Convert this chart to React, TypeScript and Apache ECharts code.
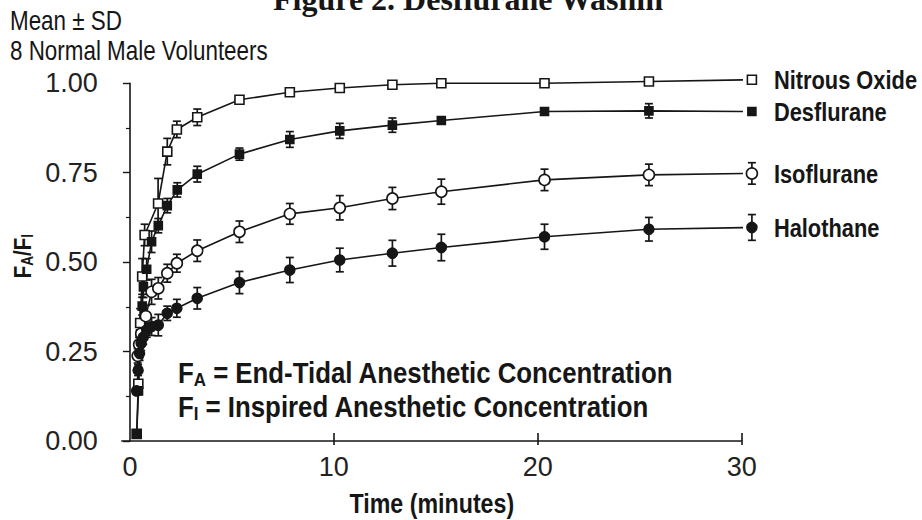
import React, { useEffect, useRef } from "react";
import * as echarts from "echarts";

// ---- data ----
const seriesNames = ["Nitrous Oxide", "Desflurane", "Isoflurane", "Halothane"];

const n2oTime = [0.33, 0.41, 0.5, 0.6, 0.72, 1.38, 1.83, 2.3, 3.3, 5.37, 7.84, 10.29, 12.87, 15.27, 20.33, 25.45, 30.5];
const n2oMean = [0.02, 0.16, 0.33, 0.46, 0.576, 0.664, 0.809, 0.871, 0.905, 0.954, 0.975, 0.987, 0.996, 1.0, 1.0, 1.005, 1.01];
const n2oSD = [0, 0.01, 0.04, 0.05, 0.03, 0.07, 0.037, 0.023, 0.023, 0.008, 0.008, 0.006, 0.005, 0.005, 0.004, 0.004, 0.004];

const desTime = [0.33, 0.42, 0.52, 0.6, 0.66, 0.82, 1.06, 1.39, 1.83, 2.32, 3.3, 5.37, 7.84, 10.29, 12.87, 15.27, 20.33, 25.45, 30.5];
const desMean = [0.02, 0.14, 0.3, 0.377, 0.431, 0.48, 0.557, 0.602, 0.658, 0.702, 0.746, 0.802, 0.843, 0.867, 0.883, 0.896, 0.921, 0.923, 0.921];
const desSD = [0, 0.01, 0.02, 0.025, 0.03, 0.03, 0.03, 0.02, 0.02, 0.02, 0.022, 0.017, 0.022, 0.021, 0.02, 0.01, 0.006, 0.02, 0.005];

const isoTime = [0.38, 0.45, 0.55, 0.78, 1.06, 1.39, 1.83, 2.3, 3.3, 5.37, 7.84, 10.29, 12.87, 15.27, 20.33, 25.45, 30.5];
const isoMean = [0.238, 0.27, 0.3, 0.349, 0.417, 0.427, 0.469, 0.497, 0.532, 0.585, 0.635, 0.652, 0.678, 0.697, 0.73, 0.744, 0.748];
const isoSD = [0.02, 0.02, 0.025, 0.03, 0.035, 0.03, 0.025, 0.025, 0.03, 0.03, 0.029, 0.034, 0.031, 0.035, 0.03, 0.03, 0.03];

const halTime = [0.33, 0.4, 0.47, 0.55, 0.65, 0.82, 1.06, 1.39, 1.83, 2.3, 3.3, 5.37, 7.84, 10.29, 12.87, 15.27, 20.33, 25.45, 30.5];
const halMean = [0.14, 0.198, 0.245, 0.273, 0.29, 0.31, 0.32, 0.324, 0.357, 0.371, 0.399, 0.443, 0.478, 0.506, 0.525, 0.541, 0.571, 0.592, 0.597];
const halSD = [0.01, 0.015, 0.02, 0.02, 0.02, 0.02, 0.025, 0.03, 0.02, 0.025, 0.03, 0.031, 0.035, 0.033, 0.036, 0.037, 0.035, 0.033, 0.036];

const xTickValues = [0, 10, 20, 30];
const xMarkValues = [10, 20, 30];

const titleText = "Figure 2. Desflurane Washin";
const noteLines = ["Mean ± SD", "8 Normal Male Volunteers"];
const xAxisTitle = "Time (minutes)";
const yAxisTitle = "F{s|A}/F{s|I}";
const defLines = ["F{s|A} = End-Tidal Anesthetic Concentration", "F{s|I} = Inspired Anesthetic Concentration"];

const INK = "#161616";
const SANS = "'Liberation Sans', Arial, Helvetica, sans-serif";
const SERIF = "'Liberation Serif', 'Times New Roman', serif";

type Spec = { time: number[]; mean: number[]; sd: number[]; symbol: string; size: number | number[]; fill: string };

const specs: Spec[] = [
  { time: n2oTime, mean: n2oMean, sd: n2oSD, symbol: "rect", size: [9, 9], fill: "#ffffff" },
  { time: desTime, mean: desMean, sd: desSD, symbol: "rect", size: [8, 8], fill: INK },
  { time: isoTime, mean: isoMean, sd: isoSD, symbol: "circle", size: 11, fill: "#ffffff" },
  { time: halTime, mean: halMean, sd: halSD, symbol: "circle", size: 10, fill: INK },
];

function defText(id: string, text: string, y: number): any {
  return {
    id,
    type: "text",
    x: 178,
    y,
    scaleX: 0.89,
    style: {
      text,
      fontFamily: SANS,
      fontWeight: "bold",
      fontSize: 29,
      lineHeight: 32,
      fill: INK,
      verticalAlign: "middle",
      rich: { s: { fontFamily: SANS, fontWeight: "bold", fontSize: 19, fill: INK, verticalAlign: "bottom", lineHeight: 20 } },
    },
  };
}

function staticGraphics(): any[] {
  return [
    {
      id: "title",
      type: "text",
      x: 468,
      y: 15,
      style: {
        text: titleText,
        fontFamily: SERIF,
        fontWeight: "bold",
        fontSize: 32,
        fill: INK,
        align: "center",
        verticalAlign: "bottom",
      },
    },
    {
      id: "note0",
      type: "text",
      x: 10,
      y: 21,
      scaleX: 0.83,
      style: { text: noteLines[0], fontFamily: SANS, fontSize: 27, fill: INK, verticalAlign: "middle" },
    },
    {
      id: "note1",
      type: "text",
      x: 10,
      y: 51,
      scaleX: 0.83,
      style: { text: noteLines[1], fontFamily: SANS, fontSize: 27, fill: INK, verticalAlign: "middle" },
    },
    defText("def0", defLines[0], 373),
    defText("def1", defLines[1], 407),
  ];
}

function buildOption(): any {
  const series: any[] = [];
  specs.forEach((s, i) => {
    series.push({
      type: "custom",
      name: seriesNames[i] + " SD",
      z: 1,
      clip: false,
      silent: true,
      data: s.time.map((t, k) => [t, s.mean[k], s.sd[k]]),
      encode: { x: 0, y: 1 },
      renderItem: (_params: any, api: any) => {
        const x = api.value(0);
        const m = api.value(1);
        const sd = api.value(2);
        if (!sd) return { type: "group", children: [] };
        const top = api.coord([x, m + sd]);
        const bot = api.coord([x, m - sd]);
        const w = 4;
        const st = { stroke: INK, lineWidth: 1.7 };
        return {
          type: "group",
          children: [
            { type: "line", shape: { x1: top[0], y1: top[1], x2: bot[0], y2: bot[1] }, style: st },
            { type: "line", shape: { x1: top[0] - w, y1: top[1], x2: top[0] + w, y2: top[1] }, style: st },
            { type: "line", shape: { x1: bot[0] - w, y1: bot[1], x2: bot[0] + w, y2: bot[1] }, style: st },
          ],
        };
      },
    });
    series.push({
      type: "line",
      name: seriesNames[i],
      z: 3,
      clip: false,
      data: s.time.map((t, k) => [t, s.mean[k]]),
      symbol: s.symbol,
      symbolSize: s.size,
      showAllSymbol: true,
      lineStyle: { color: INK, width: 1.6 },
      itemStyle: { color: s.fill, borderColor: INK, borderWidth: 1.6 },
      emphasis: { disabled: true },
    });
  });

  const xBase = {
    type: "value",
    min: -0.4,
    max: 30,
    splitLine: { show: false },
  };

  return {
    animation: false,
    backgroundColor: "#ffffff",
    grid: { left: 121.8, right: 180.3, top: 83.3, bottom: 79, containLabel: false, outerBoundsMode: "none" },
    xAxis: [
      {
        ...xBase,
        position: "bottom",
        axisLine: { show: true, onZero: false, lineStyle: { color: INK, width: 1.6 } },
        axisTick: { show: true, inside: true, length: 8, customValues: xMarkValues, lineStyle: { color: INK, width: 1.6 } },
        axisLabel: { customValues: xTickValues, margin: 12, fontFamily: SANS, fontSize: 27, color: "#222" },
      },
      {
        ...xBase,
        position: "bottom",
        axisLine: { show: false, onZero: false },
        axisTick: { show: true, inside: false, length: 4, customValues: xMarkValues, lineStyle: { color: INK, width: 1.6 } },
        axisLabel: { show: false },
      },
    ],
    yAxis: {
      type: "value",
      min: 0,
      max: 1,
      interval: 0.25,
      axisLine: { show: true, onZero: true, lineStyle: { color: INK, width: 1.6 } },
      axisTick: { show: true, length: 7, lineStyle: { color: INK, width: 1.4 } },
      minorTick: { show: true, splitNumber: 2, length: 4, lineStyle: { color: INK, width: 1.2 } },
      axisLabel: {
        margin: 24,
        fontFamily: SANS,
        fontSize: 27,
        color: "#222",
        formatter: (v: number) => v.toFixed(2),
      },
      splitLine: { show: false },
    },
    graphic: staticGraphics(),
    series,
  };
}

export default function App() {
  const ref = useRef<HTMLDivElement>(null);
  useEffect(() => {
    document.body.style.margin = "0";
    if (!ref.current) return;
    const chart = echarts.init(ref.current, undefined, { renderer: "svg" });
    chart.setOption(buildOption());

    // labels placed through the chart's own coordinate system
    const dyn: any[] = [];
    specs.forEach((s, i) => {
      const last = [s.time[s.time.length - 1], s.mean[s.mean.length - 1]];
      const p = chart.convertToPixel({ gridIndex: 0 }, last) as number[];
      dyn.push({
        id: "end" + i,
        type: "text",
        x: p[0] + 22,
        y: p[1],
        scaleX: 0.84,
        style: {
          text: seriesNames[i],
          fontFamily: SANS,
          fontWeight: "bold",
          fontSize: 26,
          fill: INK,
          verticalAlign: "middle",
        },
      });
    });
    const axMid = chart.convertToPixel({ gridIndex: 0 }, [15, 0]) as number[];
    dyn.push({
      id: "xname",
      type: "text",
      x: axMid[0] - 4,
      y: axMid[1] + 62,
      scaleX: 0.86,
      style: {
        text: xAxisTitle,
        fontFamily: SANS,
        fontWeight: "bold",
        fontSize: 27,
        fill: INK,
        align: "center",
        verticalAlign: "middle",
      },
    });
    const yMid = chart.convertToPixel({ gridIndex: 0 }, [0, 0.5]) as number[];
    dyn.push({
      id: "yname",
      type: "text",
      x: yMid[0] - 107,
      y: yMid[1] - 6,
      rotation: Math.PI / 2,
      scaleX: 0.85,
      style: {
        text: yAxisTitle,
        fontFamily: SANS,
        fontWeight: "bold",
        fontSize: 24,
        lineHeight: 26,
        fill: INK,
        align: "center",
        verticalAlign: "middle",
        rich: { s: { fontFamily: SANS, fontWeight: "bold", fontSize: 16, fill: INK, verticalAlign: "bottom", lineHeight: 16 } },
      },
    });
    chart.setOption({ graphic: [...staticGraphics(), ...dyn] });
    return () => chart.dispose();
  }, []);
  return <div ref={ref} style={{ width: 922, height: 520 }} />;
}
